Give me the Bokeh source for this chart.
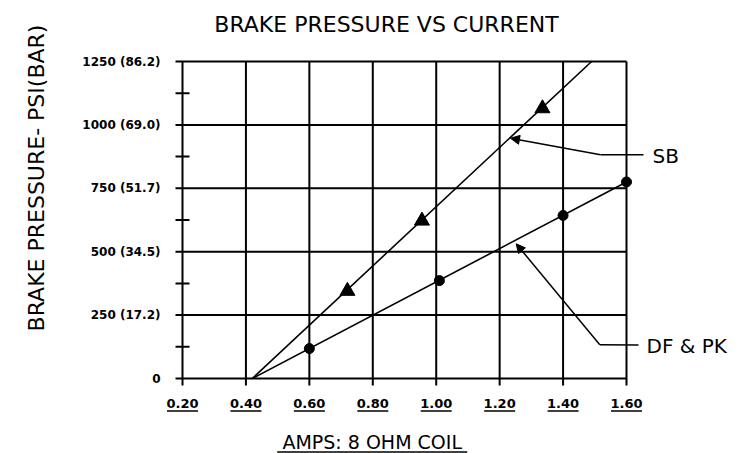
import math
from bokeh.plotting import figure
from bokeh.models import Range1d, Arrow, NormalHead
from bokeh.core.properties import value
from bokeh.embed import file_html
from bokeh.resources import INLINE

# ---- data ----
amps_ticks = [0.20, 0.40, 0.60, 0.80, 1.00, 1.20, 1.40, 1.60]
amps_labels = ["0.20", "0.40", "0.60", "0.80", "1.00", "1.20", "1.40", "1.60"]
psi_ticks = [0, 250, 500, 750, 1000, 1250]
psi_labels = ["0", "250 (17.2)", "500 (34.5)", "750 (51.7)", "1000 (69.0)", "1250 (86.2)"]
psi_minor = [125, 375, 625, 875, 1125]

sb_line_amps = [0.42, 1.49]
sb_line_psi = [0, 1250]
sb_amps = [0.72, 0.955, 1.335]
sb_psi = [345, 622, 1065]

df_line_amps = [0.42, 1.60]
df_line_psi = [0, 775]
df_amps = [0.60, 1.01, 1.40, 1.60]
df_psi = [118, 386, 643, 775]

title_text = "BRAKE PRESSURE VS CURRENT"
x_title = "AMPS: 8 OHM COIL"
y_title = "BRAKE PRESSURE- PSI(BAR)"
sb_name = "SB"
df_name = "DF & PK"

# ---- layout helpers (canvas pixel -> data) ----
XMIN, XMAX, YMIN, YMAX = 0.20, 1.60, 0, 1250
FL, FR, FT, FB = 182, 626, 61, 378  # chart box edges in canvas pixels
W, H = 738, 453


def dx(px):
    return XMIN + (px - FL) * (XMAX - XMIN) / (FR - FL)


def dy(py):
    return YMIN + (FB - py) * (YMAX - YMIN) / (FB - FT)


p = figure(width=W, height=H, output_backend="svg", toolbar_location=None,
           x_range=Range1d(dx(0), dx(W)), y_range=Range1d(dy(H), dy(0)),
           x_axis_location=None, y_axis_location=None,
           min_border=0, min_border_left=0, min_border_right=0,
           min_border_top=0, min_border_bottom=0)
p.grid.visible = False
p.outline_line_color = None
p.background_fill_color = "white"
p.border_fill_color = "white"

TICK = 7
font = value("DejaVu Sans")

# grid lines (with outward major ticks)
p.segment(x0=amps_ticks, x1=amps_ticks, y0=[dy(FB + TICK)] * len(amps_ticks),
          y1=[YMAX] * len(amps_ticks), line_color="black", line_width=2)
p.segment(x0=[dx(FL - TICK)] * len(psi_ticks), x1=[XMAX] * len(psi_ticks),
          y0=psi_ticks, y1=psi_ticks, line_color="black", line_width=2)
# minor ticks crossing the y axis
p.segment(x0=[dx(FL - TICK)] * len(psi_minor), x1=[dx(FL + TICK)] * len(psi_minor),
          y0=psi_minor, y1=psi_minor, line_color="black", line_width=2)

# tick labels
p.text(x=[dx(160)] * len(psi_ticks), y=psi_ticks, text=psi_labels,
       text_font=font, text_font_style=value("bold"), text_font_size=value("12px"),
       text_align="right", text_baseline="middle", text_color="black")
p.text(x=amps_ticks, y=[dy(403)] * len(amps_ticks), text=amps_labels,
       text_font=font, text_font_style=value("bold"), text_font_size=value("13px"),
       text_align="center", text_baseline="middle", text_color="black")
half = dx(FL + 15.5) - dx(FL)
p.segment(x0=[t - half for t in amps_ticks], x1=[t + half for t in amps_ticks],
          y0=[dy(410.5)] * len(amps_ticks), y1=[dy(410.5)] * len(amps_ticks),
          line_color="black", line_width=1.5)

# data lines and markers
p.line(sb_line_amps, sb_line_psi, line_color="black", line_width=1.6)
p.line(df_line_amps, df_line_psi, line_color="black", line_width=1.6)
p.scatter(sb_amps, sb_psi, marker="triangle", size=15, fill_color="black", line_color="black")
p.scatter(df_amps, df_psi, marker="circle", size=10, fill_color="black", line_color="black")

# leader lines
head = dict(size=9, fill_color="black", line_color="black")
p.add_layout(Arrow(end=NormalHead(**head), x_start=dx(600), y_start=dy(154.3),
                   x_end=dx(510), y_end=dy(137.7), line_width=1.5, line_color="black"))
p.add_layout(Arrow(end=NormalHead(**head), x_start=dx(599.3), y_start=dy(344.3),
                   x_end=dx(515.7), y_end=dy(243.3), line_width=1.5, line_color="black"))
p.segment(x0=[dx(600), dx(599.3)], x1=[dx(643), dx(638)],
          y0=[dy(154.3), dy(344.3)], y1=[dy(154.3), dy(344.6)],
          line_color="black", line_width=1.5)

# texts
p.text(x=[dx(386)], y=[dy(23.5)], text=[title_text], text_font=font,
       text_font_size=value("22px"), text_align="center", text_baseline="middle",
       text_color="black")
p.text(x=[dx(35.5)], y=[dy(177.5)], text=[y_title], text_font=font,
       text_font_size=value("22px"), text_align="center", text_baseline="middle",
       angle=math.pi / 2, text_color="black")
p.text(x=[dx(371.7)], y=[dy(441)], text=[x_title], text_font=font,
       text_font_size=value("19px"), text_align="center", text_baseline="middle",
       text_color="black")
xt_half = dx(FL + 95) - dx(FL)
p.segment(x0=[dx(371.7) - xt_half], x1=[dx(371.7) + xt_half],
          y0=[dy(451.5)], y1=[dy(451.5)], line_color="black", line_width=1.5)
p.text(x=[dx(652), dx(646)], y=[dy(155), dy(345)], text=[sb_name, df_name], text_font=font,
       text_font_size=value("20px"), text_align="left", text_baseline="middle",
       text_color="black")

open("out.html", "w").write(file_html(p, INLINE))
